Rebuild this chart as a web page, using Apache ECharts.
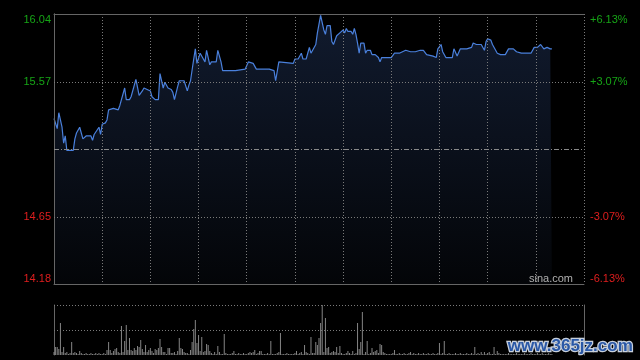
<!DOCTYPE html>
<html><head><meta charset="utf-8">
<script src="https://cdn.jsdelivr.net/npm/echarts@6/dist/echarts.min.js"></script>
<style>html,body{margin:0;padding:0;background:#000;}#c{width:640px;height:360px;}</style>
</head><body><div id="c"></div>
<script>
// minute index from the open (HK session: 330 minutes, half-hour grid)
const minutes = [0,2,3,5,6,7,8,9,12,13,14,16,17,18,20,21,23,24,25,26,28,29,30,32,33,34,37,40,41,42,44,45,47,48,49,51,53,55,56,58,60,61,63,65,66,68,69,70,71,73,74,75,77,78,81,82,83,84,85,87,88,89,90,91,93,94,95,97,98,101,102,103,104,105,113,114,119,121,122,124,126,131,132,134,137,138,140,141,149,150,152,153,154,155,157,159,160,161,163,164,166,167,168,169,170,172,173,174,176,178,180,181,182,183,185,186,187,188,189,190,191,193,194,195,197,198,200,202,203,204,210,212,215,217,219,220,222,225,228,230,232,236,238,239,241,242,243,244,248,249,250,251,252,253,257,258,260,261,263,266,268,269,270,271,272,273,276,278,281,283,286,288,289,291,294,295,297,299,301,303,304,305,307,309,310];
const prices = [15.32,15.25,15.36,15.26,15.15,15.20,15.10,15.10,15.10,15.18,15.22,15.26,15.26,15.18,15.20,15.20,15.20,15.17,15.21,15.21,15.26,15.21,15.28,15.29,15.31,15.38,15.39,15.38,15.41,15.42,15.53,15.45,15.45,15.47,15.48,15.59,15.48,15.51,15.53,15.52,15.51,15.47,15.45,15.45,15.63,15.53,15.57,15.57,15.53,15.52,15.50,15.45,15.54,15.58,15.58,15.57,15.51,15.55,15.58,15.73,15.80,15.70,15.70,15.77,15.73,15.71,15.79,15.69,15.71,15.71,15.79,15.78,15.71,15.65,15.65,15.66,15.66,15.71,15.70,15.70,15.66,15.66,15.67,15.66,15.65,15.58,15.71,15.70,15.70,15.73,15.73,15.73,15.77,15.73,15.73,15.81,15.77,15.78,15.83,15.91,16.03,16.03,15.93,15.90,15.96,15.96,15.85,15.83,15.89,15.91,15.93,15.91,15.94,15.92,15.92,15.90,15.94,15.90,15.84,15.77,15.84,15.84,15.77,15.79,15.79,15.76,15.76,15.74,15.71,15.74,15.74,15.77,15.77,15.78,15.79,15.78,15.78,15.78,15.79,15.79,15.76,15.75,15.74,15.80,15.83,15.78,15.79,15.74,15.74,15.80,15.80,15.75,15.76,15.80,15.80,15.80,15.81,15.84,15.83,15.83,15.79,15.85,15.87,15.88,15.86,15.83,15.77,15.76,15.76,15.80,15.80,15.78,15.78,15.77,15.77,15.77,15.77,15.81,15.81,15.83,15.84,15.80,15.81,15.80,15.80];
// volume per minute, starting at minute 0
const volumes = [
3,8,8,6,32,3,8,2,3,1,
2,13,2,3,2,1,4,2,1,1,
2,1,1,2,1,1,2,1,2,1,
1,2,1,5,13,5,2,4,6,7,
3,2,29,3,14,30,5,17,5,4,
7,5,9,8,15,6,3,10,3,5,
7,4,2,6,5,7,16,8,3,3,
1,7,7,2,2,3,1,4,17,7,
6,3,2,2,1,5,13,26,35,12,
20,4,18,3,4,11,10,4,2,1,
3,1,9,3,1,1,21,2,1,1,
1,2,4,1,1,2,1,1,2,1,
1,2,3,2,3,5,1,2,4,4,
1,1,1,2,1,14,1,1,1,2,
3,22,1,1,1,2,1,1,1,1,
2,4,1,2,3,1,10,3,2,1,
18,2,2,13,10,17,32,50,3,37,
7,8,2,3,4,3,8,2,9,2,
1,1,2,4,2,1,4,1,2,32,
6,13,43,1,3,14,1,2,7,3,
4,5,2,11,10,3,2,1,1,1,
1,2,5,1,1,2,1,1,2,1,
1,2,3,1,2,1,1,2,1,1,
2,1,1,2,1,1,2,1,1,2,
12,1,2,14,1,1,2,1,1,1,
2,1,1,2,1,1,1,2,1,1,
2,1,8,1,2,1,3,1,3,1,
2,3,1,1,8,1,4,2,1,1,
1,1,1,2,1,1,1,1,2,1,
1,1,1,2,1,1,1,2,1,1,
1,2,1,1,2,1,1,1,2,1,1];
const prevClose = 15.11;
const priceTicks = [14.18, 14.645, 15.11, 15.575, 16.04];
const priceLabels = ['14.18', '14.65', '', '15.57', '16.04'];
const pctLabels = ['-6.13%', '-3.07%', '', '+3.07%', '+6.13%'];
const volMax = 50;

const GREEN = '#16a516', RED = '#e01e1e', GRID = '#7a7a7a', BORDER = '#666';
const FONT = 'Arial, "Liberation Sans", sans-serif';
function tickIdx(v){ for (let i=0;i<priceTicks.length;i++) if (Math.abs(priceTicks[i]-v)<1e-6) return i; return -1; }
function fmt(list){ return function(v){ const i=tickIdx(v); if(i<0||!list[i]) return ''; return (priceTicks[i]>prevClose?'{g|':'{r|')+list[i]+'}'; }; }
const richLbl = { g:{color:GREEN, fontSize:11, fontFamily:FONT}, r:{color:RED, fontSize:11, fontFamily:FONT} };
const dotted = { color: GRID, type: [1, 2], width: 1 };

const chart = echarts.init(document.getElementById('c'), null, {renderer:'canvas'});
chart.setOption({
  backgroundColor: '#000',
  animation: false,
  grid: [
    { left: 54, right: 56, top: 14, height: 270 },
    { left: 54, right: 56, top: 305, height: 50 }
  ],
  xAxis: [
    { gridIndex:0, type:'value', min:0, max:330, interval:30, z:3,
      axisLine:{show:true, lineStyle:{color:BORDER}}, axisTick:{show:false}, axisLabel:{show:false},
      splitLine:{show:true, lineStyle:dotted} },
    { gridIndex:0, type:'value', position:'top', min:0, max:330, interval:30, z:3,
      axisLine:{show:true, lineStyle:{color:BORDER}}, axisTick:{show:false}, axisLabel:{show:false}, splitLine:{show:false} },
    { gridIndex:1, type:'value', min:0, max:330, interval:30,
      axisLine:{show:false}, axisTick:{show:false}, axisLabel:{show:false}, splitLine:{show:false} }
  ],
  yAxis: [
    { gridIndex:0, type:'value', min:14.18, max:16.04, position:'left', z:3,
      axisLine:{show:true, lineStyle:{color:BORDER}}, axisTick:{show:false}, splitLine:{show:false},
      axisLabel:{ customValues: priceTicks, formatter: fmt(priceLabels), rich: richLbl, margin: 3,
        verticalAlignMaxLabel:'top', verticalAlignMinLabel:'bottom' } },
    { gridIndex:0, type:'value', min:14.18, max:16.04, position:'right', z:3,
      axisLine:{show:true, lineStyle:{color:BORDER}}, axisTick:{show:false}, splitLine:{show:false},
      axisLabel:{ customValues: priceTicks, formatter: fmt(pctLabels), rich: richLbl, margin: 6,
        verticalAlignMaxLabel:'top', verticalAlignMinLabel:'bottom' } },
    { gridIndex:1, type:'value', min:0, max:volMax, position:'left',
      axisLine:{show:true, lineStyle:{color:BORDER}}, axisTick:{show:false}, axisLabel:{show:false}, splitLine:{show:false} },
    { gridIndex:1, type:'value', min:0, max:volMax, position:'right',
      axisLine:{show:true, lineStyle:{color:BORDER}}, axisTick:{show:false}, axisLabel:{show:false}, splitLine:{show:false} }
  ],
  series: [
    { type:'line', xAxisIndex:0, yAxisIndex:0, z:2,
      data: minutes.map((m,i)=>[m, prices[i]]),
      showSymbol:false, symbol:'none', smooth:false,
      lineStyle:{ color:'#4a80dc', width:1.2 },
      areaStyle:{ origin:'start', color:{ type:'linear', x:0, y:0, x2:0, y2:1,
        colorStops:[{offset:0, color:'#182642'}, {offset:1, color:'#05070b'}] } },
      markLine:{ silent:true, symbol:'none', label:{show:false}, animation:false,
        data:[
          { yAxis: priceTicks[3], lineStyle: dotted },
          { yAxis: priceTicks[1], lineStyle: dotted },
          { yAxis: prevClose, lineStyle: { color:'#8a8a8a', type:[5,2,1,2], width:1 } }
        ] } },
    { type:'bar', xAxisIndex:2, yAxisIndex:2, barWidth:1,
      data: volumes.map((v,i)=>[i, v]),
      itemStyle:{ color:'#858585' },
      markLine:{ silent:true, symbol:'none', label:{show:false}, animation:false,
        data:[ { yAxis: volMax, lineStyle: dotted }, { yAxis: volMax/2, lineStyle: dotted } ] } }
  ],
  graphic: [
    { type:'text', right: 67, top: 273, z: 10, silent:true,
      style:{ text:'sina.com', fill:'#b0b0b0', font:'11px ' + FONT } },
    { type:'text', right: 6, top: 337, z: 20, silent:true,
      style:{ text:'www.365jz.com', fill:'#2a58a6', font:'bold 17px ' + FONT,
        stroke:'#c8d0dc', lineWidth:2.5 } }
  ]
});
</script></body></html>
